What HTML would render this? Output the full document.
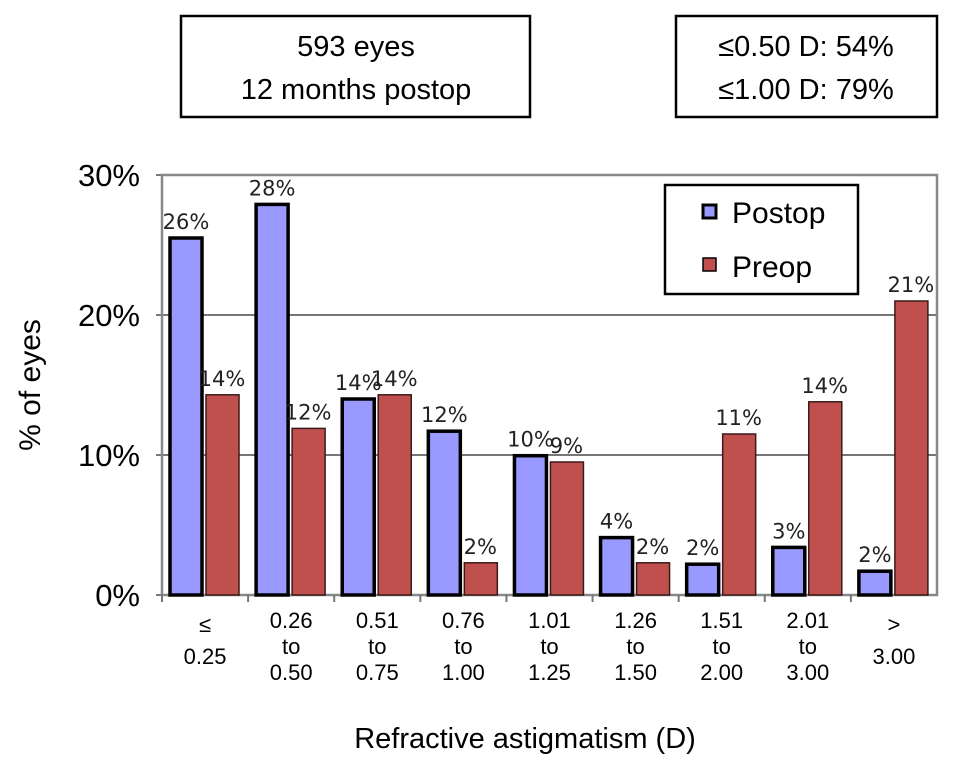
<!DOCTYPE html>
<html><head><meta charset="utf-8"><style>
body{margin:0;background:#fff;width:969px;height:765px;overflow:hidden}
svg text{font-family:"Liberation Sans",sans-serif}
svg text.dl{font-family:"DejaVu Sans",sans-serif;font-size:21px;fill:#222}
</style></head><body>
<svg id="chart" width="969" height="765">
<rect x="181" y="16" width="349" height="101" fill="#fff" stroke="#000" stroke-width="2.5"/>
<text x="356" y="56" font-size="29" text-anchor="middle">593 eyes</text>
<text x="356" y="99" font-size="29" text-anchor="middle">12 months postop</text>
<rect x="676" y="16" width="261" height="101" fill="#fff" stroke="#000" stroke-width="2.5"/>
<text x="806" y="56" font-size="29" text-anchor="middle">≤0.50 D: 54%</text>
<text x="806" y="99" font-size="29" text-anchor="middle">≤1.00 D: 79%</text>
<g id="plot"></g>
<text transform="translate(40,385) rotate(-90)" font-size="30" text-anchor="middle">% of eyes</text>
<text x="525" y="748" font-size="29" text-anchor="middle">Refractive astigmatism (D)</text>
<g>
<rect x="665" y="185" width="193" height="109" fill="#fff" stroke="#000" stroke-width="2.5"/>
<rect x="703" y="205" width="13" height="13" fill="#9999ff" stroke="#000" stroke-width="3"/>
<text x="732" y="223" font-size="30">Postop</text>
<rect x="703" y="258" width="13" height="13" fill="#c0504d" stroke="#000" stroke-width="1.5"/>
<text x="732" y="277" font-size="30">Preop</text>
</g>
</svg>
<script>
const categories=[["≤","0.25"],["0.26","to","0.50"],["0.51","to","0.75"],["0.76","to","1.00"],["1.01","to","1.25"],["1.26","to","1.50"],["1.51","to","2.00"],["2.01","to","3.00"],[">","3.00"]];
const postop=[25.5,27.9,14.0,11.7,9.95,4.1,2.2,3.4,1.7];
const preop=[14.3,11.9,14.3,2.3,9.5,2.3,11.5,13.8,21.0];
const postopLabels=["26%","28%","14%","12%","10%","4%","2%","3%","2%"];
const preopLabels=["14%","12%","14%","2%","9%","2%","11%","14%","21%"];
const yTicks=[0,10,20,30];
const X0=162,X1=937,Y0=595,Y1=175;
const cw=(X1-X0)/categories.length;
const y=v=>Y0-(v/30)*(Y0-Y1);
const xc=i=>X0+i*cw;
const g=document.getElementById('plot');
const NS='http://www.w3.org/2000/svg';
function mk(t,a){const e=document.createElementNS(NS,t);for(const k in a)e.setAttribute(k,a[k]);g.appendChild(e);return e;}
yTicks.forEach(t=>{
 if(t>0&&t<30){const l=mk('line',{x1:X0,x2:X1,y1:y(t),y2:y(t),stroke:'#777','stroke-width':2});
 
 }
 const tk=mk('line',{x1:X0-6,x2:X0,y1:y(t),y2:y(t),stroke:'#777','stroke-width':2});
 
 
 const tx=mk('text',{x:140,y:y(t)+11,'font-size':31,'text-anchor':'end'});tx.textContent=t+'%';
 
 
});
const fr=mk('rect',{x:X0,y:Y1,width:X1-X0,height:Y0-Y1,fill:'none',stroke:'#888','stroke-width':2.5});


categories.forEach((c,i)=>{
 const tk=mk('line',{x1:xc(i),x2:xc(i),y1:Y0,y2:Y0+7,stroke:'#777','stroke-width':2});
 
 
 const px=xc(i)+8,qx=xc(i)+44;
 const b1=mk('rect',{x:px,y:y(postop[i]),width:32,height:Y0-y(postop[i]),fill:'#9999ff',stroke:'#000','stroke-width':3.5});
 
 
 const b2=mk('rect',{x:qx,y:y(preop[i]),width:33,height:Y0-y(preop[i]),fill:'#c0504d',stroke:'#3a1a1a','stroke-width':1.5});
 
 
 const l1=mk('text',{x:px+16,y:y(postop[i])-9,'text-anchor':'middle','class':'dl'});l1.textContent=postopLabels[i];
 
 
 const l2=mk('text',{x:qx+16,y:y(preop[i])-9,'text-anchor':'middle','class':'dl'});l2.textContent=preopLabels[i];
 
 
 c.forEach((s,j)=>{
  const off=c.length===2?(j===0?632:664):628+j*26;
  const t=mk('text',{x:xc(i)+cw/2,y:off,'font-size':22,'text-anchor':'middle'});t.textContent=s;
  
  
 });
});
</script>
</body></html>
